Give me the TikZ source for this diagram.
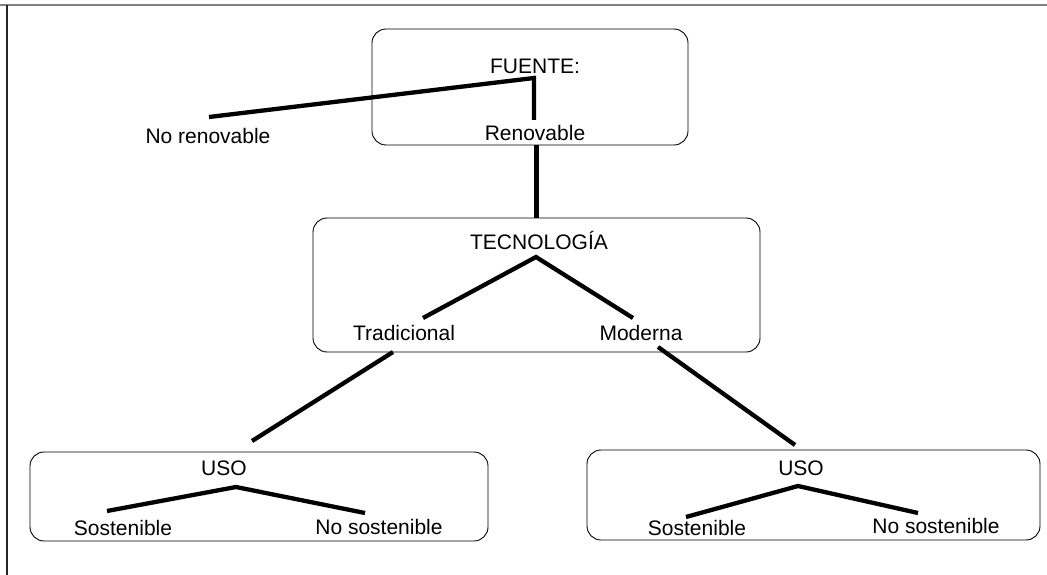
\documentclass[tikz,border=0pt]{standalone}
\usepackage{fontspec}
\setmainfont{Liberation Sans}
\usetikzlibrary{positioning}
\tikzstyle{box} = [rectangle, rounded corners=14pt, draw=black, line width=0.9pt, fill=white]
\tikzstyle{txt} = [inner sep=2pt, font=\fontsize{21}{25}\selectfont]
\tikzstyle{branch} = [line width=4.3pt]

\begin{document}
\begin{tikzpicture}[x=1pt, y=-1pt]
\useasboundingbox (0,0) rectangle (1047,575);
% frame
\draw [gray, line width=2pt] (0,5.5) -- (1047,5.5);
\draw [black!85, line width=1.2pt] (7,5) -- (7,575);
% boxes
\node (fuente) [box, minimum width=316pt, minimum height=116pt] at (530,87) {};
\node (tecno) [box, minimum width=447pt, minimum height=134pt] at (536.5,285) {};
\node (usoL) [box, minimum width=458pt, minimum height=89pt] at (259,496.5) {};
\node (usoR) [box, minimum width=453pt, minimum height=90pt] at (813.5,495) {};
% texts
\node (fuenteT) [txt] at (535,66) {FUENTE:};
\node (norenov) [txt] at (208,136) {No renovable};
\node (renov) [txt] at (535,133) {Renovable};
\node (tecnoT) [txt] at (539,240) {TECNOLOGÍA};
\node (trad) [txt] at (404,333) {Tradicional};
\node (mod) [txt] at (641,333) {Moderna};
\node (usoLT) [txt] at (224,468) {USO};
\node (sostL) [txt] at (123,528) {Sostenible};
\node (nosostL) [txt] at (379,527) {No sostenible};
\node (usoRT) [txt] at (801,468) {USO};
\node (sostR) [txt] at (697,528) {Sostenible};
\node (nosostR) [txt] at (936,526) {No sostenible};
% branch points
\coordinate (jf) at (534,78);
\coordinate (jt) at (536,257);
\coordinate (jl) at (236,487);
\coordinate (jr) at (798,486);
% free ends
\coordinate (norenovE) at (209,117);
\coordinate (renovE) at (534,120);
\coordinate (tradE) at (423,318);
\coordinate (modE) at (633,318);
\coordinate (tradB) at (393,352);
\coordinate (usoLE) at (252,441);
\coordinate (modB) at (658,347);
\coordinate (usoRE) at (795,445);
\coordinate (sostLE) at (107,511);
\coordinate (nosostLE) at (365,513);
\coordinate (sostRE) at (686,517);
\coordinate (nosostRE) at (918,513);
% connectors
\draw [branch] (norenovE) -- (jf) -- (renovE);
\draw [branch] (fuente.south -| tecno.north) -- (tecno.north);
\draw [branch] (tradE) -- (jt) -- (modE);
\draw [branch] (tradB) -- (usoLE);
\draw [branch] (modB) -- (usoRE);
\draw [branch] (sostLE) -- (jl) -- (nosostLE);
\draw [branch] (sostRE) -- (jr) -- (nosostRE);
\end{tikzpicture}
\end{document}
